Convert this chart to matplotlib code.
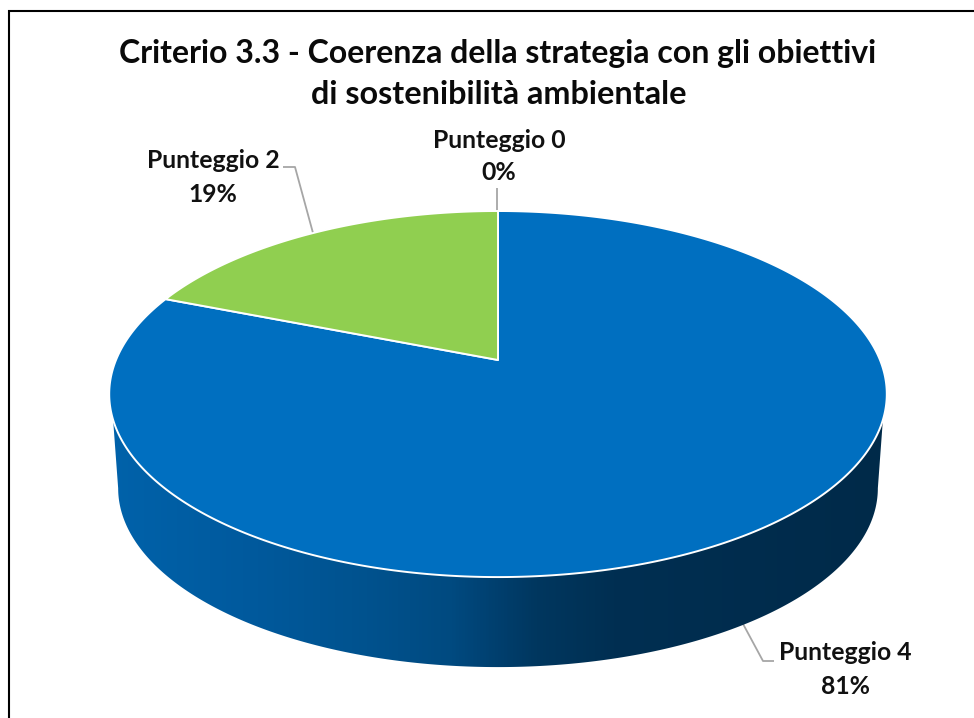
import numpy as np
import matplotlib
matplotlib.use("Agg")
import matplotlib.pyplot as plt
from matplotlib.patches import Polygon
from matplotlib.colors import LinearSegmentedColormap

title_lines = ["Criterio 3.3 - Coerenza della strategia con gli obiettivi",
               "di sostenibilità ambientale"]
categories = ["Punteggio 0", "Punteggio 4", "Punteggio 2"]
values = [0, 81, 19]
value_labels = ["0%", "81%", "19%"]
colors = ["#FFC000", "#006FC0", "#90CF50"]

plt.rcParams['font.family'] = ['Lato', 'DejaVu Sans']
fig = plt.figure(figsize=(9.74, 7.18), dpi=100)
ax = fig.add_axes([0, 0, 1, 1])
ax.set_xlim(0, 974)
ax.set_ylim(718, 0)
ax.axis("off")

CX, AY, A, B, K = 498, 360, 176.7, 382, 0.186
S, AY2 = 0.977, 455

def rim(theta, ay=AY, s=1.0):
    d = 1 + K * np.cos(theta)
    return CX + s * B * np.sin(theta) / d, ay - s * A * np.cos(theta) / d

# side band with horizontal gradient (front half of the rim)
t_top = np.radians(np.linspace(108.6, 251.4, 400))
t_bot = np.radians(np.linspace(259.3, 100.7, 400))
xt, yt = rim(t_top)
xb, yb = rim(t_bot, AY2, S)
side = np.column_stack([np.r_[xt, xb], np.r_[yt, yb]])
cmap = LinearSegmentedColormap.from_list("side", [
    (0.00, "#0062AA"), (0.17, "#005A9E"), (0.33, "#00528E"), (0.44, "#004A80"),
    (0.50, "#003F6E"), (0.55, "#00375F"), (0.65, "#002F52"), (1.00, "#002A49")])
grad = np.linspace(0, 1, 512).reshape(1, -1)
im = ax.imshow(grad, cmap=cmap, extent=[110, 886, 680, 400], aspect="auto", zorder=1)
im.set_clip_path(Polygon(side, closed=True, transform=ax.transData))
ax.set_xlim(0, 974)
ax.set_ylim(718, 0)

# top wedges, clockwise from twelve o'clock
fr = np.cumsum([0] + values) / sum(values) * 2 * np.pi
for i, v in enumerate(values):
    if v == 0:
        continue
    th = np.linspace(fr[i], fr[i + 1], 500)
    x, y = rim(th)
    pts = np.column_stack([np.r_[CX, x], np.r_[AY, y]])
    ax.add_patch(Polygon(pts, closed=True, fc=colors[i], ec="white", lw=1.4,
                         joinstyle="round", zorder=2))

# leader lines
leader_x = [[497, 497], [742, 763, 774], [313, 295, 283]]
leader_y = [[211, 188], [622, 661, 661], [233, 167, 167]]
for lx, ly in zip(leader_x, leader_y):
    ax.plot(lx, ly, color="#A6A6A6", lw=1.3, zorder=0.5, solid_capstyle="butt")

# labels
label_xy = [(499, 141, 173), (845, 653, 686), (213, 161, 194)]
for (x, y1, y2), c, v in zip(label_xy, categories, value_labels):
    ax.text(x, y1, c, ha="center", va="center", fontsize=17.8, fontweight="bold", color="#111111")
    ax.text(x, y2, v, ha="center", va="center", fontsize=17.8, fontweight="bold", color="#111111")

ax.text(498, 54, title_lines[0], ha="center", va="center", fontsize=23.0, fontweight="bold", color="#0a0a0a")
ax.text(499, 94, title_lines[1], ha="center", va="center", fontsize=23.3, fontweight="bold", color="#0a0a0a")

# frame
ax.plot([9, 9, 974], [718, 11, 11], color="black", lw=1.5, zorder=4, solid_joinstyle="miter")

fig.savefig("out.png", dpi=100)
